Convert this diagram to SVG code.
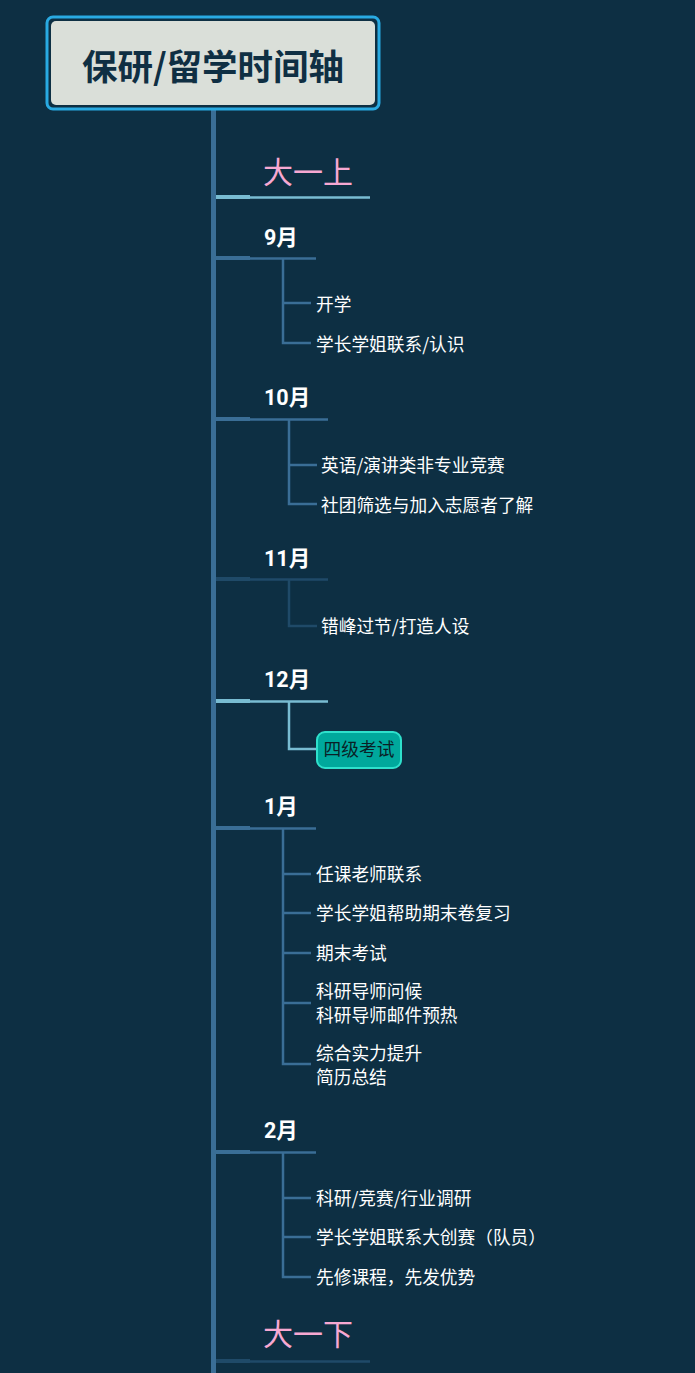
<svg xmlns="http://www.w3.org/2000/svg" width="695" height="1373" viewBox="0 0 695 1373">
<style>
.bg{fill:#0d2f43}
.spine{stroke:#3a6e96;stroke-width:5;fill:none}
.thick{stroke-width:4;fill:none}
.thin{stroke-width:2.5;fill:none}
.br{stroke:#3a6e96;stroke-width:2.5;fill:none}
.c-norm{stroke:#3a6e96}
.c-light{stroke:#78bcd2}
.c-dim{stroke:#1f4a68}
.sem{font-family:"Noto Sans CJK SC","Liberation Sans",sans-serif;font-size:30px;fill:#f7a8d2}
.mon{font-family:Roboto,"Noto Sans CJK SC",sans-serif;font-weight:bold;font-size:21.5px;fill:#ffffff}
.item{font-family:"Noto Sans CJK SC","Liberation Sans",sans-serif;font-size:17.7px;fill:#ffffff}
.title{font-family:"Noto Sans CJK SC","Liberation Sans",sans-serif;font-weight:bold;font-size:35.5px;fill:#0f2f43}
</style>
<rect class="bg" x="0" y="0" width="695" height="1373"/>
<g id="connectors">
<line class="spine" x1="213.5" y1="106" x2="213.5" y2="1373"/>
<line class="thick c-light" x1="216" y1="197" x2="250" y2="197"/>
<line class="thin c-light" x1="250" y1="197.5" x2="370" y2="197.5"/>
<line class="thick c-norm" x1="216" y1="258" x2="250" y2="258"/>
<line class="thin c-norm" x1="250" y1="258.5" x2="316" y2="258.5"/>
<path class="br" d="M283 258 V343 H311 M283 303 H311"/>
<line class="thick c-norm" x1="216" y1="419" x2="250" y2="419"/>
<line class="thin c-norm" x1="250" y1="419.5" x2="328" y2="419.5"/>
<path class="br" d="M289 419 V504 H317 M289 465 H317"/>
<line class="thick c-dim" x1="216" y1="579" x2="250" y2="579"/>
<line class="thin c-dim" x1="250" y1="579.5" x2="328" y2="579.5"/>
<path class="br c-dim" d="M289 579 V626 H317"/>
<line class="thick c-light" x1="216" y1="701" x2="250" y2="701"/>
<line class="thin c-light" x1="250" y1="701.5" x2="328" y2="701.5"/>
<path class="br c-light" d="M289 701 V749 H317"/>
<line class="thick c-norm" x1="216" y1="828" x2="250" y2="828"/>
<line class="thin c-norm" x1="250" y1="828.5" x2="316" y2="828.5"/>
<path class="br" d="M283 828 V1064 H311 M283 874 H311 M283 913 H311 M283 953 H311 M283 1003 H311"/>
<line class="thick c-norm" x1="216" y1="1152" x2="250" y2="1152"/>
<line class="thin c-norm" x1="250" y1="1152.5" x2="316" y2="1152.5"/>
<path class="br" d="M283 1152 V1277 H311 M283 1198 H311 M283 1237 H311"/>
<line class="thick c-dim" x1="216" y1="1361" x2="250" y2="1361"/>
<line class="thin c-dim" x1="250" y1="1361.5" x2="370" y2="1361.5"/>
</g>
<g id="root">
<rect x="47" y="17" width="332" height="92" rx="6" fill="#0d2f43" stroke="#29aae2" stroke-width="3"/>
<rect x="51" y="21" width="324" height="84" rx="5" fill="#dadfd9"/>
<text class="title" x="213" y="80" text-anchor="middle">保研/留学时间轴</text>
</g>
<g id="sem1"><text class="sem" x="263" y="183">大一上</text></g>
<g id="m9"><text class="mon" x="264" y="245">9月</text></g>
<g id="m9a"><text class="item" x="316" y="311">开学</text></g>
<g id="m9b"><text class="item" x="316" y="351">学长学姐联系/认识</text></g>
<g id="m10"><text class="mon" x="264" y="405">10月</text></g>
<g id="m10a"><text class="item" x="321" y="472">英语/演讲类非专业竞赛</text></g>
<g id="m10b"><text class="item" x="321" y="512">社团筛选与加入志愿者了解</text></g>
<g id="m11"><text class="mon" x="264" y="566">11月</text></g>
<g id="m11a"><text class="item" x="321" y="633">错峰过节/打造人设</text></g>
<g id="m12"><text class="mon" x="264" y="687">12月</text></g>
<g id="m12a">
<rect x="317" y="732" width="84" height="36" rx="8" fill="#00a89c" stroke="#2ee0cc" stroke-width="2"/>
<text class="item" x="359" y="756" text-anchor="middle" style="fill:#0a1f26">四级考试</text>
</g>
<g id="m1"><text class="mon" x="264" y="814">1月</text></g>
<g id="m1a"><text class="item" x="316" y="881">任课老师联系</text></g>
<g id="m1b"><text class="item" x="316" y="920">学长学姐帮助期末卷复习</text></g>
<g id="m1c"><text class="item" x="316" y="960">期末考试</text></g>
<g id="m1d"><text class="item" x="316" y="998">科研导师问候</text><text class="item" x="316" y="1022">科研导师邮件预热</text></g>
<g id="m1e"><text class="item" x="316" y="1060">综合实力提升</text><text class="item" x="316" y="1084">简历总结</text></g>
<g id="m2"><text class="mon" x="264" y="1138">2月</text></g>
<g id="m2a"><text class="item" x="316" y="1205">科研/竞赛/行业调研</text></g>
<g id="m2b"><text class="item" x="316" y="1244">学长学姐联系大创赛（队员）</text></g>
<g id="m2c"><text class="item" x="316" y="1284">先修课程，先发优势</text></g>
<g id="sem2"><text class="sem" x="263" y="1345">大一下</text></g>
</svg>
